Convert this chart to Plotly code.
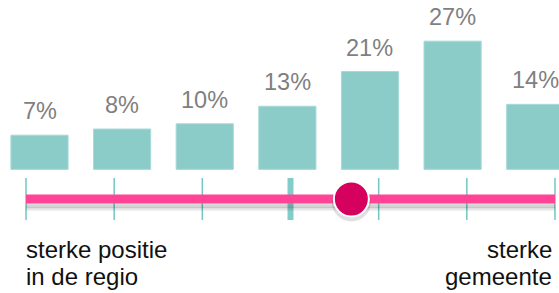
import plotly.graph_objects as go

# ---- data ----
categories = ["1", "2", "3", "4", "5", "6", "7"]
values = [7.2, 8.5, 9.6, 13.3, 20.6, 27.0, 13.7]
value_labels = ["7%", "8%", "10%", "13%", "21%", "27%", "14%"]

scale_min = 0
scale_max = 6
scale_ticks = [0, 1, 2, 3, 4, 5, 6]
scale_value = 3.69
left_label = ["sterke positie", "in de regio"]
right_label = ["sterke", "gemeente"]

# ---- styles ----
BAR = "#8BCCC9"
TICK = "#72C7C2"
PINK = "#FF4497"
DOT = "#D6005F"
LABEL_GREY = "#7F7F7F"
FONT = "Liberation Sans, Arial, Helvetica, sans-serif"

fig = go.Figure()

# bars
fig.add_trace(go.Bar(
    x=categories, y=values, width=0.692,
    marker=dict(color=BAR, line=dict(color="#A8DAD7", width=1)),
    hoverinfo="skip", xaxis="x", yaxis="y",
))

# slider: ticks (thin), thick middle tick
mid = scale_ticks[len(scale_ticks) // 2]
thin = [t for t in scale_ticks if t != mid]
fig.add_trace(go.Scatter(
    x=thin, y=[0] * len(thin), mode="markers",
    marker=dict(symbol="line-ns", size=30, line=dict(color=TICK, width=1.5)),
    hoverinfo="skip", xaxis="x2", yaxis="y2",
))
fig.add_trace(go.Scatter(
    x=[mid], y=[0], mode="markers",
    marker=dict(symbol="line-ns", size=30, line=dict(color="#82CDC9", width=6)),
    hoverinfo="skip", xaxis="x2", yaxis="y2",
))

# shadow under the pink track
for dy, w, op in [(-6, 6, 0.10), (-8, 5, 0.07), (-10, 4, 0.05)]:
    fig.add_trace(go.Scatter(
        x=[scale_min, scale_max], y=[dy, dy], mode="lines",
        line=dict(color="#000000", width=w), opacity=op,
        hoverinfo="skip", xaxis="x2", yaxis="y2",
    ))

# pink track
fig.add_trace(go.Scatter(
    x=[scale_min, scale_max], y=[0, 0], mode="lines",
    line=dict(color=PINK, width=9),
    hoverinfo="skip", xaxis="x2", yaxis="y2",
))

# dot shadow
fig.add_trace(go.Scatter(
    x=[scale_value], y=[-3], mode="markers",
    marker=dict(size=39, color="rgba(0,0,0,0.12)", line=dict(width=0)),
    hoverinfo="skip", xaxis="x2", yaxis="y2",
))
# dot
fig.add_trace(go.Scatter(
    x=[scale_value], y=[0], mode="markers",
    marker=dict(size=35, color=DOT, line=dict(color="white", width=2)),
    hoverinfo="skip", xaxis="x2", yaxis="y2",
))

annotations = []
for i, (v, t) in enumerate(zip(values, value_labels)):
    # category axis: position i is categories[i]
    annotations.append(dict(
        x=i, y=v, xref="x", yref="y", text=t, showarrow=False,
        yanchor="bottom", xanchor="center", yshift=9,
        font=dict(family=FONT, size=23.5, color=LABEL_GREY),
    ))
for i, t in enumerate(left_label):
    annotations.append(dict(
        x=scale_min, y=-50 - 27 * i, xref="x2", yref="y2", text=t,
        showarrow=False, xanchor="left", yanchor="middle", xshift=-2,
        font=dict(family=FONT, size=24, color="#111111"),
    ))
for i, t in enumerate(right_label):
    annotations.append(dict(
        x=scale_max, y=-50 - 27 * i, xref="x2", yref="y2", text=t,
        showarrow=False, xanchor="right", yanchor="middle", xshift=-1,
        font=dict(family=FONT, size=24, color="#111111"),
    ))

W, H = 559, 293
px_per_unit = 82.62
bar0_px = 39.5
px_per_pct = 4.75
zero_from_top = 169.4
ymin = -(H - zero_from_top) / px_per_pct
ymax = zero_from_top / px_per_pct

slider_left_px, slider_right_px = 26, 555
slider_ppu = (slider_right_px - slider_left_px) / (scale_max - scale_min)
track_from_top = 199

fig.update_layout(
    width=W, height=H,
    margin=dict(l=0, r=0, t=0, b=0),
    paper_bgcolor="white", plot_bgcolor="rgba(0,0,0,0)",
    showlegend=False,
    annotations=annotations,
    xaxis=dict(type="category", range=[-bar0_px / px_per_unit, (W - bar0_px) / px_per_unit],
               visible=False, fixedrange=True),
    yaxis=dict(range=[ymin, ymax], visible=False, fixedrange=True),
    xaxis2=dict(range=[scale_min - slider_left_px / slider_ppu,
                       scale_min + (W - slider_left_px) / slider_ppu],
                overlaying="x", visible=False, fixedrange=True),
    yaxis2=dict(range=[-(H - track_from_top), track_from_top],
                overlaying="y", visible=False, fixedrange=True),
)

fig.write_html(
    "out.html",
    config={"displayModeBar": False},
    post_script="document.body.style.margin='0px';document.body.style.overflow='hidden';",
)
